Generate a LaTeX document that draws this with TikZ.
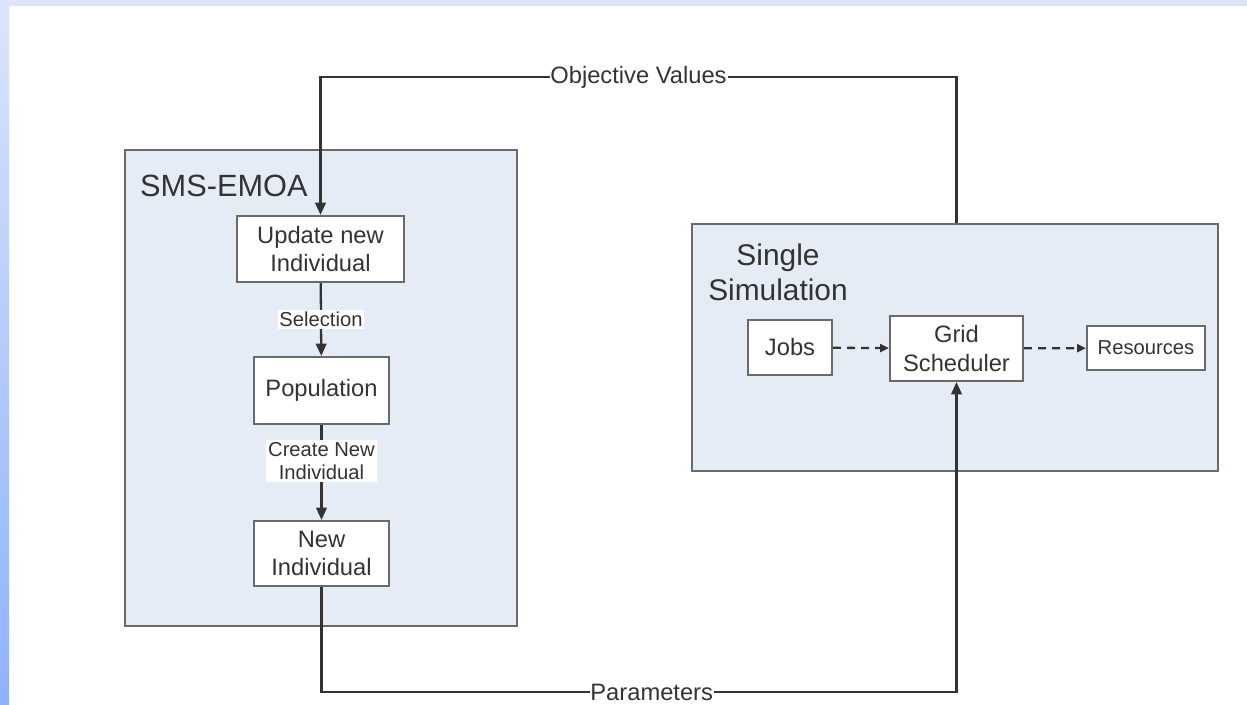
\documentclass[tikz,border=0pt]{standalone}
\usepackage{fontspec}
\setmainfont{Liberation Sans}
\usepackage[HTML]{xcolor}
\usetikzlibrary{positioning, arrows.meta}

\definecolor{panel}{HTML}{E6ECF6}
\definecolor{edge}{HTML}{6A6A6A}
\definecolor{ink}{HTML}{333333}
\definecolor{stripA}{HTML}{DBE5FC}
\definecolor{stripB}{HTML}{8EB2FB}

\begin{document}
\begin{tikzpicture}[x=0.02cm,y=-0.02cm,
  frame/.style={draw=edge,fill=panel,line width=1.2pt,inner sep=0pt},
  block/.style={draw=edge,fill=white,line width=1.2pt,align=center,inner sep=0pt,text=ink,font=\fontsize{13.5}{16}\selectfont},
  conn/.style={draw=ink,line width=1.3pt},
  lab/.style={fill=white,inner sep=0.5pt,text=ink,font=\fontsize{13.5}{16}\selectfont},
  steplab/.style={fill=white,inner sep=1pt,align=center,text=ink,font=\fontsize{11.5}{13.5}\selectfont},
  tip/.style={-{Triangle[length=7pt,width=6pt]}},
  dtip/.style={-{Triangle[length=5pt,width=4.5pt]},dash pattern=on 4.5pt off 3.5pt}]
% page
\useasboundingbox (0,0) rectangle (1247,704);
\fill[white] (0,0) rectangle (1247,704);
\fill[stripA] (0,0) rectangle (1247,6);
\shade[top color=stripA,bottom color=stripB] (0,0) rectangle (9,704);

% frames
\node[frame,minimum width=7.84cm,minimum height=9.52cm] (sms) at (321,388) {};
\node[frame,minimum width=10.52cm,minimum height=4.94cm] (ss) at (955,347.5) {};
\node[anchor=west,text=ink,font=\fontsize{17.5}{20}\selectfont] (smstitle) at (134,186) {SMS-EMOA};
\node[align=center,text=ink,font=\fontsize{17}{20}\selectfont] (sstitle) at (778,272) {Single\\Simulation};

% SMS-EMOA steps
\node[block,minimum width=3.34cm,minimum height=1.32cm] (upd) at (320.5,249) {Update new\\Individual};
\node[block,minimum width=2.7cm,minimum height=1.34cm] (pop) at (321.5,390.5) {Population};
\node[block,minimum width=2.7cm,minimum height=1.3cm] (newind) at (321.5,553.5) {New\\Individual};

% simulation
\node[block,minimum width=1.68cm,minimum height=1.1cm] (jobs) at (790,347.5) {Jobs};
\node[block,minimum width=2.66cm,minimum height=1.3cm] (grid) at (956.5,348.5) {Grid\\Scheduler};
\node[block,minimum width=2.36cm,minimum height=0.88cm,font=\fontsize{11.5}{14}\selectfont] (res) at (1146,348) {Resources};

% inner arrows
\draw[conn,tip] (upd) -- node[steplab]{Selection} (pop);
\draw[conn,tip] (pop) -- node[steplab,pos=0.38]{Create New\\Individual} (newind);
\draw[conn,dtip] (jobs) -- (grid);
\draw[conn,dtip] (grid) -- (res);

% loop between the two
\coordinate (top) at (0,77);
\coordinate (bot) at (0,692);
\draw[conn,tip] (grid.north |- ss.north) -- (grid.north |- top)
  -- node[lab,pos=0.5]{Objective Values} (upd.north |- top) -- (upd.north);
\draw[conn,tip] (newind.south) -- (newind.south |- bot)
  -- node[lab,pos=0.52]{Parameters} (grid.south |- bot) -- (grid.south);
\end{tikzpicture}
\end{document}
